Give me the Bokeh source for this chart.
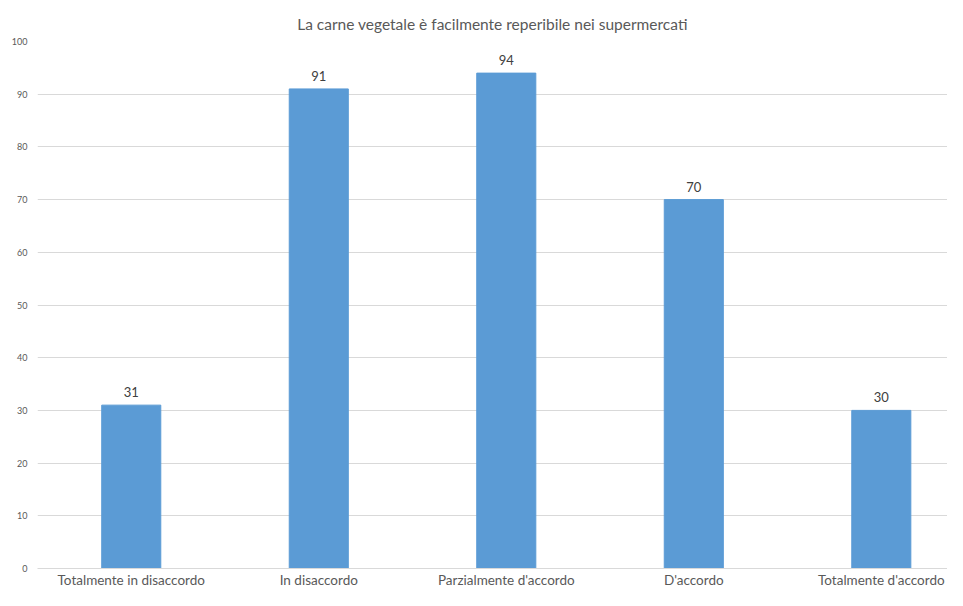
from bokeh.plotting import figure
from bokeh.models import FixedTicker, ColumnDataSource, Range1d
from bokeh.core.properties import value
from bokeh.embed import file_html
from bokeh.resources import INLINE

categories = ["Totalmente in disaccordo", "In disaccordo", "Parzialmente d'accordo", "D'accordo", "Totalmente d'accordo"]
counts = [31, 91, 94, 70, 30]
y_ticks = [0, 10, 20, 30, 40, 50, 60, 70, 80, 90, 100]
title_text = "La carne vegetale è facilmente reperibile nei supermercati"

FONT = "Lato"
xs = list(range(len(categories)))
src = ColumnDataSource(dict(x=xs, top=counts, label=[str(c) for c in counts]))

p = figure(width=947, height=590, output_backend="svg", toolbar_location=None,
           x_range=Range1d(-0.5, 4.353), y_range=Range1d(0, 100),
           min_border_left=37, min_border_right=0, min_border_top=41, min_border_bottom=10)

p.title.text = title_text
p.title.align = "center"
p.title.offset = 9
p.title.text_font = FONT
p.title.text_font_size = "15.5px"
p.title.text_font_style = "normal"
p.title.text_color = "#595959"
p.title.standoff = 17

p.vbar(x="x", top="top", width=0.315, bottom=0, source=src,
       fill_color="#5B9BD5", line_color="#5B9BD5")
p.text(x="x", y="top", text="label", source=src, y_offset=-8,
       text_align="center", text_baseline="bottom",
       text_font=value(FONT), text_font_size="13px", text_color="#404040")

p.outline_line_color = None
p.background_fill_color = "white"
p.border_fill_color = "white"

p.xgrid.grid_line_color = None
p.ygrid.grid_line_color = "#D9D9D9"
p.ygrid.grid_line_width = 1
p.ygrid.ticker = FixedTicker(ticks=y_ticks)

p.yaxis.ticker = FixedTicker(ticks=y_ticks)
p.yaxis.axis_line_color = None
p.yaxis.major_tick_line_color = None
p.yaxis.minor_tick_line_color = None
p.yaxis.major_tick_out = 0
p.yaxis.major_tick_in = 0
p.yaxis.major_label_standoff = 10
p.yaxis.major_label_text_font = FONT
p.yaxis.major_label_text_font_size = "9px"
p.yaxis.major_label_text_color = "#595959"

p.xaxis.ticker = FixedTicker(ticks=xs)
p.xaxis.major_label_overrides = {i: c for i, c in enumerate(categories)}
p.xaxis.axis_line_color = "#D9D9D9"
p.xaxis.major_tick_line_color = None
p.xaxis.minor_tick_line_color = None
p.xaxis.major_tick_out = 0
p.xaxis.major_tick_in = 0
p.xaxis.major_label_standoff = 3
p.xaxis.major_label_text_font = FONT
p.xaxis.major_label_text_font_size = "13.5px"
p.xaxis.major_label_text_color = "#595959"

open("out.html", "w").write(file_html(p, INLINE))
